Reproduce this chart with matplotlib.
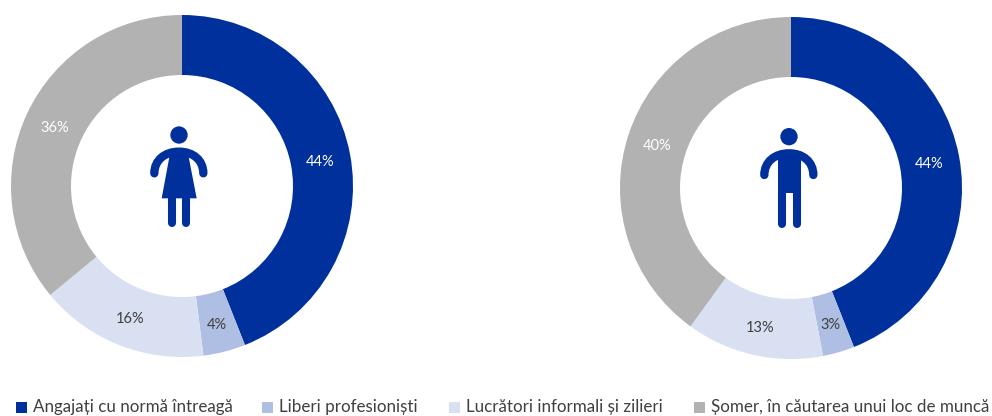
import matplotlib
matplotlib.use('Agg')
import matplotlib.pyplot as plt
from matplotlib.patches import Circle, Polygon, PathPatch, Rectangle
from matplotlib.path import Path

plt.rcParams['font.family'] = ['Lato', 'DejaVu Sans']

# data
categories = ['Angajați cu normă întreagă', 'Liberi profesioniști',
              'Lucrători informali și zilieri', 'Șomer, în căutarea unui loc de muncă']
women = [44, 4, 16, 36]
men = [44, 3, 13, 40]
colors = ['#00309C', '#AFBFE3', '#D9E0F2', '#B2B2B2']
label_colors = ['white', '#404040', '#404040', 'white']

W, H = 992, 416
R_OUT, R_IN = 171, 111
BLUE = colors[0]

fig = plt.figure(figsize=(W / 100, H / 100), dpi=100)


def donut(values, cx, cy):
    ax = fig.add_axes([(cx - R_OUT) / W, 1 - (cy + R_OUT) / H, 2 * R_OUT / W, 2 * R_OUT / H])
    wedges, _, autotexts = ax.pie(values, colors=colors, startangle=90, counterclock=False,
                                  radius=1, autopct='%.0f%%', pctdistance=(R_OUT + R_IN) / 2 / R_OUT,
                                  wedgeprops={'width': (R_OUT - R_IN) / R_OUT})
    ax.set_xlim(-1, 1)
    ax.set_ylim(-1, 1)
    for t, c in zip(autotexts, label_colors):
        t.set_color(c)
        t.set_fontsize(10.5)
        x, y = t.get_position()
        t.set_position((x, y - 2 / R_OUT))


donut(women, 182, 186)
donut(men, 791, 188)

# overlay in pixels for the icons and the legend
over = fig.add_axes([0, 0, 1, 1])
over.set_xlim(0, W)
over.set_ylim(H, 0)
over.axis('off')
over.patch.set_alpha(0)


def person(x0, y0, female):
    # icon outline measured in 3x zoom pixels
    def p(x, y):
        return (x0 + x / 3, y0 + y / 3)

    dy = 0 if female else 5
    over.add_patch(Circle(p(147, 60 + dy), 26 / 3, color=BLUE, lw=0))
    # shoulders and arms
    verts = [p(73, 175 + dy), p(73, 135 + dy), p(105, 110 + dy), p(147, 110 + dy),
             p(189, 110 + dy), p(220, 135 + dy), p(220, 175 + dy)]
    codes = [Path.MOVETO] + [Path.CURVE4] * 6
    over.add_patch(PathPatch(Path(verts, codes), fill=False, ec=BLUE, lw=6, capstyle='round'))
    if female:
        over.add_patch(Polygon([p(122, 105), p(172, 105), p(200, 250), p(95, 250)], color=BLUE, lw=0))
        leg_top, leg_bot = 240, 323
        legs = [127, 167]
    else:
        over.add_patch(Rectangle(p(115, 108), 67 / 3, 127 / 3, color=BLUE, lw=0))
        leg_top, leg_bot = 225, 328
        legs = [127, 170]
    for x in legs:
        over.plot(*zip(p(x, leg_top), p(x, leg_bot)), color=BLUE, lw=5.8, solid_capstyle='round')


person(130, 115, True)
person(740, 115, False)

# legend
square_x = [16, 262, 449, 694]
for x, c, name in zip(square_x, colors, categories):
    over.add_patch(Rectangle((x, 402), 11, 11, color=c, lw=0))
    over.text(x + 17, 407, name, fontsize=12.25, color='#404040', va='center', ha='left')

fig.savefig('out.png', dpi=100)
